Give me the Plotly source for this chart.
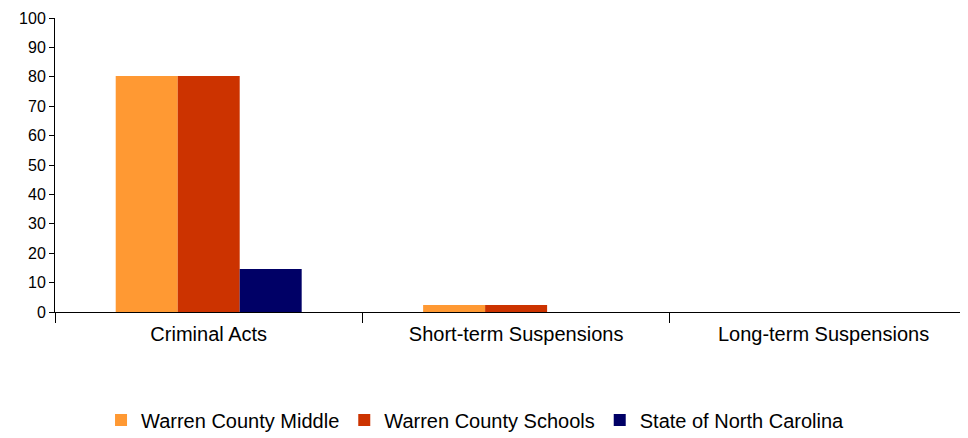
import plotly.graph_objects as go

categories = ["Criminal Acts", "Short-term Suspensions", "Long-term Suspensions"]
series_names = ["Warren County Middle", "Warren County Schools", "State of North Carolina"]
middle = [80.3, 2.4, 0]
county = [80.3, 2.4, 0]
state = [14.6, 0, 0]
colors = ["#FF9933", "#CC3300", "#000066"]
y_ticks = [0, 10, 20, 30, 40, 50, 60, 70, 80, 90, 100]

fig = go.Figure()
for name, vals, c in zip(series_names, [middle, county, state], colors):
    fig.add_trace(go.Bar(x=categories, y=vals, name=name, marker=dict(color=c, line=dict(width=0))))

fig.update_layout(
    width=960, height=430,
    margin=dict(l=47, r=0, t=10, b=126, autoexpand=False),
    paper_bgcolor="white", plot_bgcolor="white",
    barmode="group", bargap=0.395, bargroupgap=0,
    font=dict(family="Liberation Sans, Arial, sans-serif", size=20, color="#000"),
    showlegend=True,
    legend=dict(orientation="h", x=0.4606, xanchor="center", y=-0.367, yanchor="middle",
                font=dict(size=20), traceorder="normal", itemwidth=30),
    xaxis=dict(type="category", range=[-0.5, 2.47], showline=True, linecolor="#000", linewidth=1,
               ticks="outside", tickson="boundaries", ticklen=10, tickcolor="#000",
               showgrid=False, tickfont=dict(size=20), ticklabelstandoff=4, automargin=False),
    yaxis=dict(range=[0, 100], tickvals=y_ticks, showline=True, linecolor="#000", linewidth=1,
               ticks="outside", ticklen=5, tickcolor="#000", showgrid=False, zeroline=False,
               tickfont=dict(size=16), automargin=False),
)
fig.write_html("out.html")
